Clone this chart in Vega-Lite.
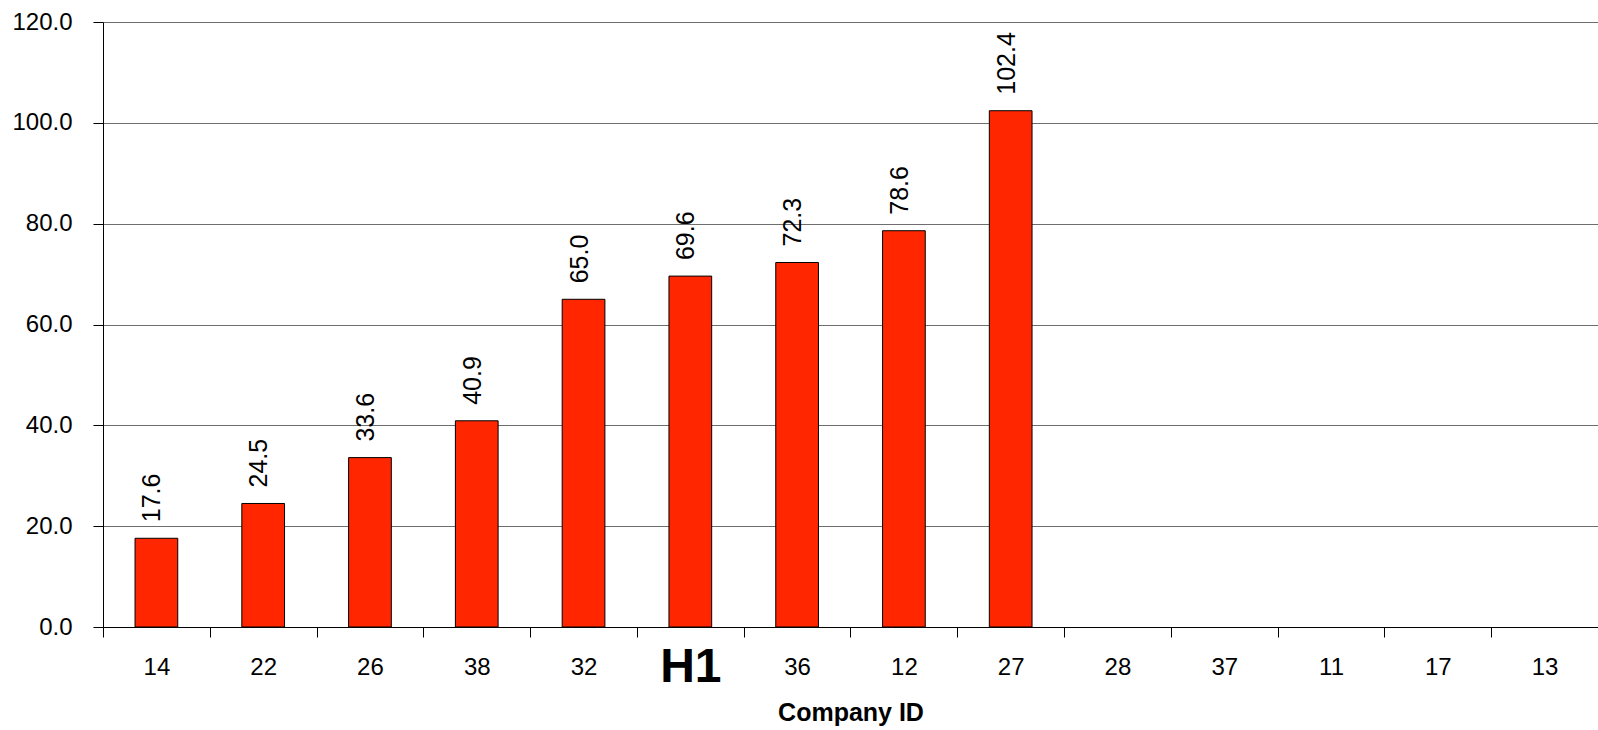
{
  "$schema": "https://vega.github.io/schema/vega-lite/v6.json",
  "autosize": {"type": "none"},
  "padding": {"left": 103, "top": 22, "right": 0, "bottom": 103},
  "width": 1495,
  "height": 605,
  "background": "white",
  "config": {
    "view": {"stroke": null},
    "font": "Liberation Sans"
  },
  "data": {
    "values": [
      {"company": "14", "value": 17.6},
      {"company": "22", "value": 24.5},
      {"company": "26", "value": 33.6},
      {"company": "38", "value": 40.9},
      {"company": "32", "value": 65.0},
      {"company": "H1", "value": 69.6},
      {"company": "36", "value": 72.3},
      {"company": "12", "value": 78.6},
      {"company": "27", "value": 102.4},
      {"company": "28", "value": null},
      {"company": "37", "value": null},
      {"company": "11", "value": null},
      {"company": "17", "value": null},
      {"company": "13", "value": null}
    ]
  },
  "encoding": {
    "x": {
      "field": "company",
      "type": "nominal",
      "sort": null,
      "scale": {
        "domain": ["14", "22", "26", "38", "32", "H1", "36", "12", "27", "28", "37", "11", "17", "13"],
        "paddingInner": 0.6,
        "paddingOuter": 0.3
      },
      "axis": {
        "title": "Company ID",
        "titleFont": "Liberation Sans",
        "titleFontSize": 25,
        "titleFontWeight": "bold",
        "titleColor": "black",
        "titleBaseline": "middle",
        "titleY": 85,
        "labelAngle": 0,
        "labelFont": "Liberation Sans",
        "labelFontSize": {"expr": "datum.value == 'H1' ? 48 : 24"},
        "labelFontWeight": {"expr": "datum.value == 'H1' ? 'bold' : 'normal'"},
        "labelColor": "black",
        "labelBaseline": "middle",
        "labelPadding": 30,
        "bandPosition": 0.5,
        "tickOffset": -53.4,
        "labelOffset": 53.4,
        "tickSize": 10,
        "tickColor": "black",
        "domainColor": "black",
        "grid": false
      }
    },
    "y": {
      "field": "value",
      "type": "quantitative",
      "scale": {"domain": [0, 120], "nice": false},
      "axis": {
        "title": null,
        "values": [0, 20, 40, 60, 80, 100, 120],
        "format": ".1f",
        "labelFont": "Liberation Sans",
        "labelFontSize": 24,
        "labelColor": "black",
        "labelPadding": 21,
        "tickSize": 10,
        "tickColor": "black",
        "domainColor": "black",
        "grid": true,
        "gridColor": "#6e6e6e",
        "gridWidth": 1
      }
    }
  },
  "layer": [
    {
      "mark": {"type": "bar", "color": "#FF2600", "stroke": "black", "strokeWidth": 1}
    },
    {
      "mark": {
        "type": "text",
        "angle": 270,
        "align": "left",
        "baseline": "middle",
        "dx": 16,
        "dy": -4,
        "font": "Liberation Sans",
        "fontSize": 25,
        "color": "black"
      },
      "encoding": {
        "text": {"field": "value", "type": "quantitative", "format": ".1f"}
      }
    }
  ]
}
